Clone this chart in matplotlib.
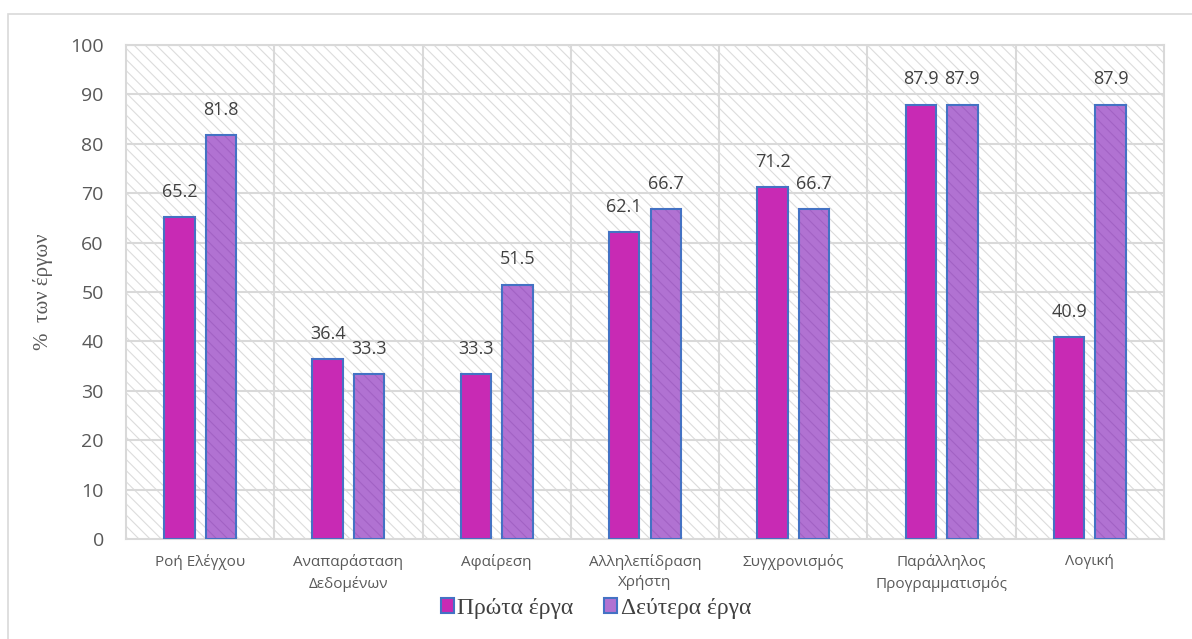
import numpy as np
import matplotlib.pyplot as plt
from matplotlib.patches import Rectangle, Patch

categories = ['Ροή Ελέγχου', 'Αναπαράσταση\nΔεδομένων', 'Αφαίρεση',
              'Αλληλεπίδραση\nΧρήστη', 'Συγχρονισμός',
              'Παράλληλος\nΠρογραμματισμός', 'Λογική']
first_tasks = [65.2, 36.4, 33.3, 62.1, 71.2, 87.9, 40.9]
second_tasks = [81.8, 33.3, 51.5, 66.7, 66.7, 87.9, 87.9]
series_names = ['Πρώτα έργα', 'Δεύτερα έργα']

c1 = '#C82AB4'
c2 = '#B172D2'
edge = '#4472C4'
grid_c = '#D9D9D9'
text_c = '#595959'

plt.rcParams['hatch.linewidth'] = 0.8

fig = plt.figure(figsize=(11.92, 6.39), dpi=100)
ax = fig.add_axes([0.1057, 0.1565, 0.8708, 0.7731])

# outer frame of the chart area
fig.patches.append(Rectangle((8 / 1192, -0.1), 1.2, 1 - 14 / 639 + 0.1,
                             transform=fig.transFigure, fill=False,
                             edgecolor=grid_c, lw=1.2))

x = np.arange(len(categories))
w = 0.205
off = 0.14

ax.set_xlim(-0.5, len(categories) - 0.5)
ax.set_ylim(0, 100)

# hatched plot background
ax.add_patch(Rectangle((-0.5, 0), len(categories), 100, facecolor='white',
                       edgecolor='#DCDCDC', hatch='\\\\\\', lw=0, zorder=0))

for y in range(10, 101, 10):
    ax.axhline(y, color=grid_c, lw=1.5, zorder=1)
for xv in np.arange(0.5, len(categories) - 1, 1):
    ax.axvline(xv, color=grid_c, lw=1.5, zorder=1)

ax.bar(x - off, first_tasks, w, color=c1, edgecolor=edge, lw=1.5, zorder=3)
ax.bar(x + off, second_tasks, w, color=c2, edgecolor='#A262C4', lw=0,
       hatch='\\\\\\', zorder=3)
ax.bar(x + off, second_tasks, w, fill=False, edgecolor=edge, lw=1.5, zorder=4)

for xi, v in zip(x - off, first_tasks):
    ax.text(xi, v + 3.3, f'{v:.1f}', ha='center', va='bottom',
            fontsize=13, color='#404040', family='Open Sans')
for xi, v in zip(x + off, second_tasks):
    ax.text(xi, v + 3.3, f'{v:.1f}', ha='center', va='bottom',
            fontsize=13, color='#404040', family='Open Sans')

for s in ax.spines.values():
    s.set_color(grid_c)
    s.set_linewidth(1.5)

ax.set_yticks(range(0, 101, 10))
ax.set_xticks(x)
ax.set_xticklabels(categories, fontsize=11, color=text_c, family='Open Sans',
                   linespacing=1.45)
for lab in ax.get_yticklabels():
    lab.set_family('Open Sans')
    lab.set_fontsize(14)
    lab.set_color(text_c)
ax.tick_params(length=0)
ax.tick_params(axis='x', pad=11)
ax.tick_params(axis='y', pad=16)

ax.set_ylabel('%  των έργων', family='Liberation Serif', fontsize=15,
              color=text_c, labelpad=12)

handles = [Patch(facecolor=c1, edgecolor=edge, lw=1.5),
           Patch(facecolor=c2, edgecolor=edge, lw=1.5)]
fig.legend(handles, series_names, loc='center', bbox_to_anchor=(0.5, 0.048),
           ncol=2, frameon=False, prop={'family': 'Liberation Serif', 'size': 17},
           handlelength=0.55, handleheight=0.55, handletextpad=0.15,
           columnspacing=1.3, labelcolor='#404040')

fig.savefig('out.png', dpi=100)
